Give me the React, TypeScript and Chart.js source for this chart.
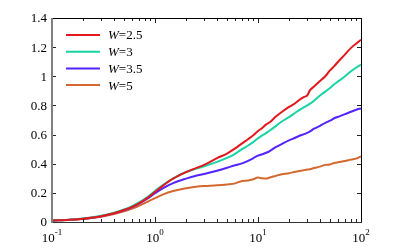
import React, { useEffect, useRef } from "react";
import { Chart, registerables } from "chart.js";

Chart.register(...registerables);

const xValues = [0.1, 0.15, 0.2, 0.3, 0.4, 0.5, 0.6, 0.7, 0.85, 1, 1.2, 1.5, 2, 2.5, 3, 4, 5, 6, 7, 8, 9, 10, 11, 12, 13, 15, 17, 20, 23, 26, 28, 30, 32, 35, 40, 45, 50, 55, 60, 70, 80, 90, 100];

const w25 = [0.010, 0.016, 0.023, 0.040, 0.060, 0.082, 0.104, 0.128, 0.167, 0.207, 0.250, 0.297, 0.342, 0.370, 0.392, 0.438, 0.470, 0.505, 0.540, 0.568, 0.595, 0.625, 0.645, 0.670, 0.685, 0.725, 0.755, 0.790, 0.815, 0.845, 0.858, 0.868, 0.905, 0.930, 0.968, 1.000, 1.040, 1.070, 1.100, 1.150, 1.195, 1.225, 1.250];
const w3 = [0.010, 0.016, 0.024, 0.043, 0.064, 0.086, 0.109, 0.134, 0.173, 0.213, 0.256, 0.300, 0.343, 0.366, 0.383, 0.413, 0.440, 0.468, 0.500, 0.525, 0.548, 0.575, 0.595, 0.610, 0.628, 0.660, 0.690, 0.720, 0.750, 0.775, 0.788, 0.800, 0.812, 0.832, 0.868, 0.895, 0.920, 0.945, 0.965, 1.000, 1.035, 1.060, 1.080];
const w35 = [0.010, 0.015, 0.022, 0.040, 0.060, 0.081, 0.103, 0.126, 0.162, 0.197, 0.233, 0.267, 0.298, 0.318, 0.330, 0.352, 0.372, 0.390, 0.402, 0.420, 0.438, 0.455, 0.465, 0.475, 0.487, 0.515, 0.535, 0.560, 0.578, 0.595, 0.603, 0.612, 0.622, 0.640, 0.660, 0.680, 0.695, 0.712, 0.722, 0.740, 0.757, 0.770, 0.780];
const w5 = [0.010, 0.015, 0.021, 0.036, 0.054, 0.073, 0.092, 0.111, 0.139, 0.164, 0.190, 0.213, 0.232, 0.242, 0.247, 0.252, 0.258, 0.265, 0.282, 0.285, 0.293, 0.305, 0.300, 0.298, 0.305, 0.318, 0.328, 0.335, 0.345, 0.352, 0.356, 0.360, 0.362, 0.370, 0.380, 0.392, 0.395, 0.405, 0.410, 0.418, 0.428, 0.435, 0.450];

const seriesLabels = ["W=2.5", "W=3", "W=3.5", "W=5"];
const seriesColors = ["#e3171c", "#17d4a2", "#5224ff", "#d4692f"];

const yTicks = [0, 0.2, 0.4, 0.6, 0.8, 1, 1.2, 1.4];
const yTickLabels = ["0", "0.2", "0.4", "0.6", "0.8", "1", "1.2", "1.4"];
const xMajorTicks = [0.1, 1, 10, 100];
const xTickExponents = ["-1", "0", "1", "2"];

const FONT = "'Liberation Serif', 'Times New Roman', serif";

const axesPlugin = {
  id: "matlabAxes",
  afterDatasetsDraw(chart: any) {
    const ctx = chart.ctx as CanvasRenderingContext2D;
    const { left, right, top, bottom } = chart.chartArea;
    const xs = chart.scales.x;
    const ys = chart.scales.y;
    ctx.save();

    // ticks
    ctx.strokeStyle = "#222";
    ctx.lineWidth = 1;
    const minor: number[] = [];
    for (let d = 0; d < xMajorTicks.length - 1; d++) {
      for (let k = 2; k <= 9; k++) minor.push(xMajorTicks[d] * k);
    }
    ctx.beginPath();
    for (const v of minor) {
      const px = Math.round(xs.getPixelForValue(v)) + 0.5;
      ctx.moveTo(px, bottom); ctx.lineTo(px, bottom - 3);
      ctx.moveTo(px, top); ctx.lineTo(px, top + 3);
    }
    for (const v of xMajorTicks) {
      const px = Math.round(xs.getPixelForValue(v)) + 0.5;
      ctx.moveTo(px, bottom); ctx.lineTo(px, bottom - 5);
      ctx.moveTo(px, top); ctx.lineTo(px, top + 5);
    }
    for (const v of yTicks) {
      const py = Math.round(ys.getPixelForValue(v)) + 0.5;
      ctx.moveTo(left, py); ctx.lineTo(left + 4, py);
      ctx.moveTo(right, py); ctx.lineTo(right - 4, py);
    }
    ctx.stroke();

    // frame
    ctx.strokeStyle = "#000";
    ctx.lineWidth = 1;
    ctx.beginPath();
    ctx.moveTo(left, Math.round(top) + 0.5); ctx.lineTo(Math.round(right) + 1, Math.round(top) + 0.5);
    ctx.moveTo(Math.round(right) + 0.5, top); ctx.lineTo(Math.round(right) + 0.5, bottom);
    ctx.stroke();
    ctx.strokeStyle = "#333";
    ctx.beginPath();
    ctx.moveTo(left, Math.round(bottom) + 0.5); ctx.lineTo(Math.round(right) + 1, Math.round(bottom) + 0.5);
    ctx.stroke();
    ctx.strokeStyle = "#808080";
    ctx.lineWidth = 2;
    ctx.beginPath();
    ctx.moveTo(Math.round(left), top); ctx.lineTo(Math.round(left), bottom + 1);
    ctx.stroke();

    // y labels
    ctx.fillStyle = "#000";
    ctx.font = `13px ${FONT}`;
    ctx.textAlign = "right";
    ctx.textBaseline = "middle";
    yTicks.forEach((v, i) => {
      ctx.fillText(yTickLabels[i], left - 5, ys.getPixelForValue(v) + 1);
    });

    // x labels with superscript
    ctx.textBaseline = "alphabetic";
    ctx.textAlign = "left";
    xMajorTicks.forEach((v, i) => {
      const px = xs.getPixelForValue(v);
      ctx.font = `13px ${FONT}`;
      const base = "10";
      const bw = ctx.measureText(base).width;
      ctx.font = `9px ${FONT}`;
      const ew = ctx.measureText(xTickExponents[i]).width;
      const start = px - (bw + ew) / 2;
      ctx.font = `13px ${FONT}`;
      ctx.fillText(base, start, bottom + 20);
      ctx.font = `9px ${FONT}`;
      ctx.fillText(xTickExponents[i], start + bw, bottom + 13);
    });

    // legend
    chart.data.datasets.forEach((ds: any, i: number) => {
      const y = 35 + i * 16.7;
      ctx.strokeStyle = ds.borderColor;
      ctx.lineWidth = 2;
      ctx.beginPath();
      ctx.moveTo(66, y); ctx.lineTo(100, y);
      ctx.stroke();
      const label: string = ds.label;
      ctx.fillStyle = "#000";
      ctx.textBaseline = "middle";
      ctx.font = `italic 13px ${FONT}`;
      const first = label.slice(0, 1);
      ctx.fillText(first, 108, y + 1);
      const fw = ctx.measureText(first).width;
      ctx.font = `13px ${FONT}`;
      ctx.fillText(label.slice(1), 108 + fw, y + 1);
    });

    ctx.restore();
  },
};

export default function App() {
  const ref = useRef<HTMLCanvasElement>(null);
  useEffect(() => {
    document.body.style.margin = "0";
    const series = [w25, w3, w35, w5];
    const chart = new Chart(ref.current!, {
      type: "line",
      data: {
        datasets: series.map((s, i) => ({
          label: seriesLabels[i],
          data: xValues.map((x, j) => ({ x, y: s[j] })),
          borderColor: seriesColors[i],
          backgroundColor: seriesColors[i],
          borderWidth: 2,
          pointRadius: 0,
          fill: false,
          cubicInterpolationMode: "monotone" as const,
        })),
      },
      options: {
        animation: false,
        responsive: false,
        maintainAspectRatio: false,
        devicePixelRatio: 1,
        layout: { padding: { left: 52, right: 38, top: 18, bottom: 27 } },
        plugins: { legend: { display: false }, tooltip: { enabled: false } },
        scales: {
          x: { type: "logarithmic", min: 0.1, max: 100, display: false },
          y: { type: "linear", min: 0, max: 1.4, display: false },
        },
      },
      plugins: [axesPlugin],
    });
    return () => chart.destroy();
  }, []);
  return (
    <div style={{ position: "fixed", left: 0, top: 0, width: 399, height: 249, background: "#fff" }}>
      <canvas ref={ref} width={399} height={249} style={{ width: 399, height: 249 }} />
    </div>
  );
}
